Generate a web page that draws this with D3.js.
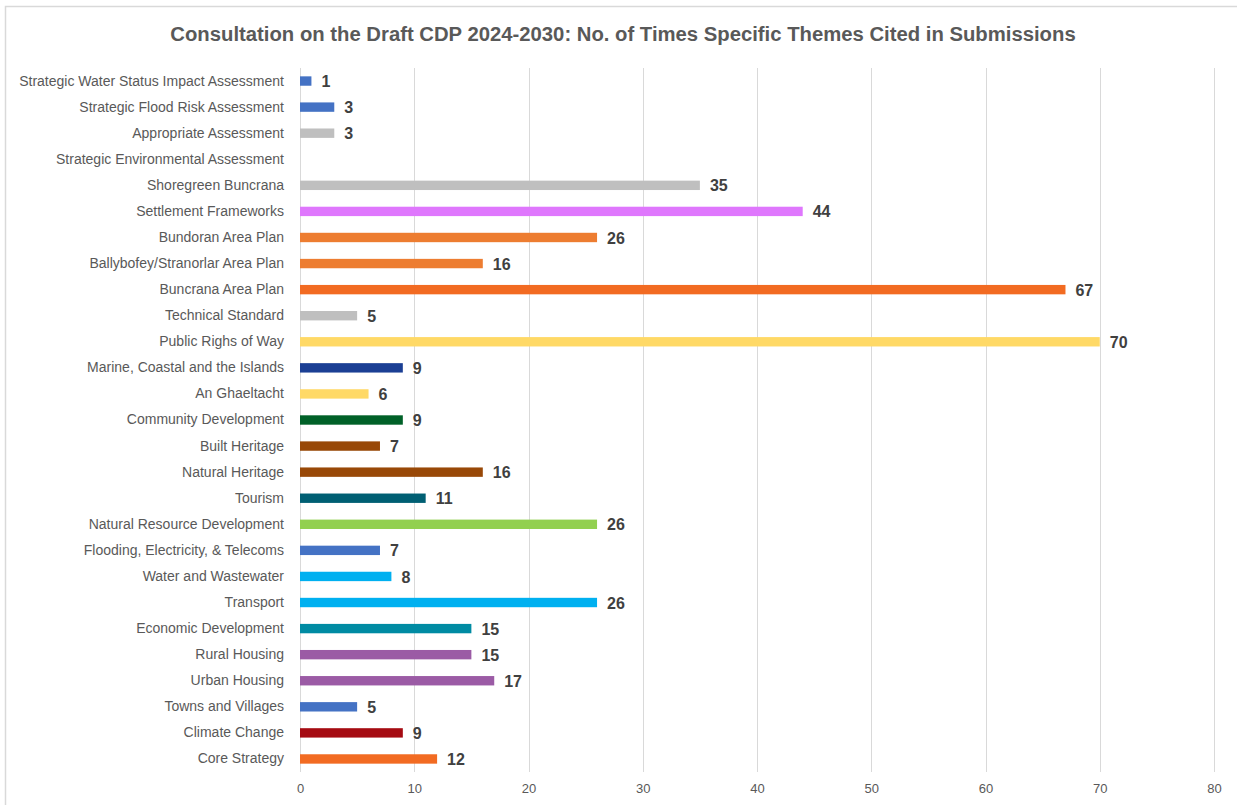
<!DOCTYPE html>
<html>
<head>
<meta charset="utf-8">
<script src="https://cdn.jsdelivr.net/npm/d3@7"></script>
<style>
  body { margin: 0; background: #fff; }
  svg text { font-family: "Liberation Sans", Arial, sans-serif; }
</style>
</head>
<body>
<div id="chart"></div>
<script>
// themes, top to bottom as shown
var themes = [
  'Strategic Water Status Impact Assessment',
  'Strategic Flood Risk Assessment',
  'Appropriate Assessment',
  'Strategic Environmental Assessment',
  'Shoregreen Buncrana',
  'Settlement Frameworks',
  'Bundoran Area Plan',
  'Ballybofey/Stranorlar Area Plan',
  'Buncrana Area Plan',
  'Technical Standard',
  'Public Righs of Way',
  'Marine, Coastal and the Islands',
  'An Ghaeltacht',
  'Community Development',
  'Built Heritage',
  'Natural Heritage',
  'Tourism',
  'Natural Resource Development',
  'Flooding, Electricity, & Telecoms',
  'Water and Wastewater',
  'Transport',
  'Economic Development',
  'Rural Housing',
  'Urban Housing',
  'Towns and Villages',
  'Climate Change',
  'Core Strategy'
];

// no. of times cited
var counts = [1, 3, 3, 0, 35, 44, 26, 16, 67, 5, 70, 9, 6, 9, 7, 16, 11, 26, 7, 8, 26, 15, 15, 17, 5, 9, 12];

var xTicks = [0, 10, 20, 30, 40, 50, 60, 70, 80];

// one colour per bar, same order as themes
var barColors = [
  '#4472C4', '#4472C4', '#BFBFBF', '#BFBFBF', '#BFBFBF', '#DF77FD', '#ED7D31', '#ED7D31',
  '#F26B22', '#BFBFBF', '#FFD966', '#1B3F94', '#FFD966', '#006128', '#984807', '#984807',
  '#005F73', '#92D050', '#4472C4', '#00B0F0', '#00B0F0', '#008BA3', '#9B5BA5', '#9B5BA5',
  '#4472C4', '#A50B12', '#F26B22'
];

var width = 1237, height = 805;
var margin = {top: 68, right: 23, bottom: 33, left: 300};

var svg = d3.select('#chart').append('svg')
  .attr('width', width)
  .attr('height', height);

// chart area border
svg.append('rect')
  .attr('x', 5.5).attr('y', 6.5)
  .attr('width', width).attr('height', height)
  .attr('fill', '#fff')
  .attr('stroke', '#D9D9D9')
  .attr('stroke-width', 1.5);

svg.append('text')
  .attr('x', 623)
  .attr('y', 41)
  .attr('text-anchor', 'middle')
  .attr('fill', '#595959')
  .style('font-size', '20.3px')
  .style('font-weight', 'bold')
  .text('Consultation on the Draft CDP 2024-2030: No. of Times Specific Themes Cited in Submissions');

var x = d3.scaleLinear()
  .domain([0, 80])
  .range([margin.left, 1214]);

var y = d3.scaleBand()
  .domain(themes)
  .range([margin.top, 772])
  .paddingInner(0.64)
  .paddingOuter(0.32);

// gridlines
svg.append('g')
  .selectAll('line')
  .data(xTicks)
  .enter().append('line')
  .attr('x1', function(d) { return Math.round(x(d)) + 0.5; })
  .attr('x2', function(d) { return Math.round(x(d)) + 0.5; })
  .attr('y1', margin.top)
  .attr('y2', 772)
  .attr('stroke', '#D9D9D9')
  .attr('stroke-width', 1);

// x axis labels
var xAxis = svg.append('g')
  .attr('transform', 'translate(0,772)')
  .call(d3.axisBottom(x).tickValues(xTicks).tickSize(0).tickPadding(12));
xAxis.select('.domain').remove();
xAxis.selectAll('text')
  .attr('fill', '#595959')
  .style('font-size', '13px');

// y axis labels
var yAxis = svg.append('g')
  .attr('transform', 'translate(' + (margin.left - 16) + ',0)')
  .call(d3.axisLeft(y).tickSize(0).tickPadding(0));
yAxis.select('.domain').remove();
yAxis.selectAll('text')
  .attr('fill', '#595959')
  .style('font-size', '14px');

var rows = themes.map(function(t, i) {
  return {theme: t, count: counts[i], color: barColors[i]};
});

// bars
svg.append('g')
  .selectAll('rect')
  .data(rows)
  .enter().append('rect')
  .attr('x', x(0))
  .attr('y', function(d) { return y(d.theme); })
  .attr('width', function(d) { return x(d.count) - x(0); })
  .attr('height', y.bandwidth())
  .attr('fill', function(d) { return d.color; });

// value labels
svg.append('g')
  .selectAll('text')
  .data(rows.filter(function(d) { return d.count > 0; }))
  .enter().append('text')
  .attr('x', function(d) { return x(d.count) + 10; })
  .attr('y', function(d) { return y(d.theme) + y.bandwidth() / 2; })
  .attr('dy', '0.38em')
  .attr('fill', '#404040')
  .style('font-size', '16px')
  .style('font-weight', 'bold')
  .text(function(d) { return d.count; });
</script>
</body>
</html>
